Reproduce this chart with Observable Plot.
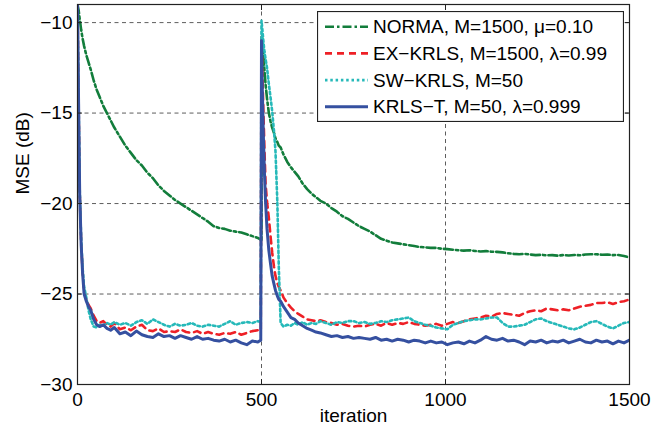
<!DOCTYPE html>
<html><head><meta charset="utf-8">
<script src="https://cdn.jsdelivr.net/npm/d3@7"></script>
<script src="https://cdn.jsdelivr.net/npm/@observablehq/plot@0.6"></script>
<style>
body{margin:0;background:#fff;}
#wrap{position:relative;width:662px;height:431px;font-family:"Liberation Sans",Arial,sans-serif;}
#legend{position:absolute;left:317px;top:11px;}
</style></head><body><div id="wrap"></div>
<script>
const iterations = [
0,3,6,10,14,18,24,30,36,44,
52,60,70,80,90,100,
115,130,145,160,175,190,205,220,235,250,
265,280,295,310,325,340,355,370,385,400,
415,430,445,460,475,490,
498,
500,502,505,508,511,515,520,525,529,534,538,543,547,552,
560,570,580,590,600,612,624,636,648,660,
675,690,705,720,735,750,765,780,795,810,
825,840,855,870,885,900,915,930,945,960,
975,990,1005,1020,1035,1050,1065,1080,1095,1110,
1125,1140,1155,1170,1185,1200,1215,1230,1245,1260,
1275,1290,1305,1320,1335,1350,1365,1380,1395,1410,
1425,1440,1455,1470,1485,1500];

const normaMSE = [
-9.0,-9.3,-9.8,-10.4,-10.9,-11.3,-11.8,-12.2,-12.6,-13.2,
-13.7,-14.1,-14.6,-15.0,-15.4,-15.8,
-16.3,-16.8,-17.2,-17.6,-17.9,-18.3,-18.6,-19.0,-19.3,-19.55,
-19.8,-20.0,-20.2,-20.4,-20.6,-20.8,-21.0,-21.25,-21.35,-21.4,
-21.5,-21.55,-21.6,-21.7,-21.8,-21.9,
-22.0,
-22.0,-10.8,-11.8,-12.6,-13.4,-14.2,-15.0,-15.5,-15.8,-16.1,-16.4,-16.6,-16.8,-16.9,
-17.3,-17.7,-18.0,-18.25,-18.5,-18.9,-19.2,-19.45,-19.65,-19.85,
-20.0,-20.25,-20.45,-20.7,-20.85,-21.05,-21.25,-21.4,-21.55,-21.75,
-21.95,-22.05,-22.15,-22.2,-22.25,-22.3,-22.35,-22.4,-22.42,-22.45,
-22.45,-22.5,-22.52,-22.55,-22.58,-22.6,-22.58,-22.62,-22.65,-22.63,
-22.66,-22.67,-22.7,-22.75,-22.78,-22.8,-22.78,-22.82,-22.85,-22.83,
-22.86,-22.85,-22.88,-22.85,-22.87,-22.84,-22.86,-22.82,-22.8,-22.8,
-22.83,-22.82,-22.85,-22.84,-22.9,-22.98];

const exkrlsMSE = [
-9.0,-14.5,-19.4,-22.2,-23.8,-24.9,-25.3,-25.6,-25.8,-26.2,
-26.5,-26.6,-26.5,-26.7,-26.8,-26.6,
-26.95,-26.85,-27.0,-26.8,-26.7,-27.0,-27.05,-26.9,-27.1,-27.05,
-27.1,-26.95,-27.1,-27.15,-27.05,-27.2,-27.1,-27.2,-27.25,-27.15,
-27.2,-27.1,-27.25,-27.15,-27.05,-27.0,
-27.05,
-10.8,-12.5,-14.8,-17.0,-18.9,-19.9,-20.8,-21.9,-22.7,-23.5,-24.0,-24.4,-24.6,-24.8,
-25.2,-25.5,-25.75,-25.95,-26.1,-26.25,-26.4,-26.45,-26.5,-26.45,
-26.55,-26.6,-26.7,-26.65,-26.75,-26.8,-26.75,-26.8,-26.7,-26.65,
-26.75,-26.6,-26.7,-26.6,-26.65,-26.55,-26.65,-26.7,-26.75,-26.7,
-26.65,-26.75,-26.65,-26.55,-26.6,-26.5,-26.4,-26.35,-26.3,-26.2,
-26.25,-26.1,-26.05,-26.1,-26.15,-26.2,-26.05,-25.95,-25.9,-25.95,
-25.8,-25.85,-25.9,-25.85,-25.9,-25.8,-25.7,-25.65,-25.6,-25.5,
-25.5,-25.45,-25.55,-25.45,-25.4,-25.3];

const swkrlsMSE = [
-9.0,-14.3,-19.2,-22.0,-23.6,-24.6,-25.2,-25.9,-26.4,-26.8,
-26.85,-26.7,-26.75,-26.6,-26.7,-26.55,
-26.7,-26.6,-26.75,-26.55,-26.45,-26.65,-26.4,-26.55,-26.7,-26.8,
-26.65,-26.75,-26.7,-26.6,-26.75,-26.8,-26.7,-26.75,-26.8,-26.65,
-26.5,-26.7,-26.6,-26.55,-26.6,-26.5,
-26.55,
-9.9,-10.3,-11.0,-11.6,-12.0,-12.5,-13.4,-14.2,-14.9,-16.0,-17.1,-19.9,-23.5,-26.6,
-26.8,-26.7,-26.75,-26.6,-26.7,-26.55,-26.7,-26.6,-26.65,-26.5,
-26.6,-26.7,-26.55,-26.6,-26.5,-26.5,-26.6,-26.55,-26.65,-26.6,
-26.5,-26.55,-26.45,-26.4,-26.35,-26.3,-26.5,-26.6,-26.7,-26.75,
-26.85,-26.9,-26.95,-26.7,-26.6,-26.5,-26.45,-26.4,-26.4,-26.35,
-26.3,-26.3,-26.6,-26.8,-26.8,-26.75,-26.7,-26.55,-26.4,-26.35,
-26.5,-26.6,-26.7,-26.8,-26.9,-26.95,-26.85,-26.7,-26.55,-26.5,
-26.65,-26.8,-26.9,-26.75,-26.6,-26.55];

const krlstMSE = [
-9.0,-14.5,-19.5,-22.3,-23.9,-25.0,-25.4,-25.7,-25.9,-26.4,
-26.7,-26.8,-26.7,-26.9,-27.0,-26.85,
-27.2,-27.1,-27.3,-27.05,-27.25,-27.35,-27.4,-27.2,-27.35,-27.3,
-27.45,-27.3,-27.4,-27.5,-27.35,-27.5,-27.45,-27.55,-27.6,-27.5,
-27.65,-27.55,-27.7,-27.8,-27.6,-27.65,
-27.55,
-11.0,-13.5,-16.2,-18.3,-19.9,-21.4,-22.6,-23.4,-24.0,-24.45,-24.8,-25.1,-25.3,-25.4,
-25.7,-26.0,-26.3,-26.4,-26.6,-26.75,-26.9,-27.0,-27.1,-27.15,
-27.25,-27.35,-27.3,-27.4,-27.35,-27.45,-27.4,-27.45,-27.5,-27.4,
-27.55,-27.5,-27.6,-27.5,-27.55,-27.65,-27.55,-27.6,-27.7,-27.6,
-27.7,-27.65,-27.8,-27.7,-27.65,-27.75,-27.6,-27.7,-27.55,-27.35,
-27.5,-27.55,-27.45,-27.6,-27.55,-27.65,-27.8,-27.6,-27.65,-27.55,
-27.7,-27.6,-27.65,-27.55,-27.7,-27.6,-27.5,-27.65,-27.7,-27.55,
-27.65,-27.6,-27.75,-27.6,-27.7,-27.55];

const seriesNames = ["NORMA, M=1500, μ=0.10", "EX−KRLS, M=1500, λ=0.99", "SW−KRLS, M=50", "KRLS−T, M=50, λ=0.999"];
const seriesValues = [normaMSE, exkrlsMSE, swkrlsMSE, krlstMSE];
const xTicks = [0, 500, 1000, 1500];
const yTicks = [-30, -25, -20, -15, -10];
const xLabel = "iteration";
const yLabel = "MSE (dB)";

const styles = [
  {stroke: "#127d3b", dash: "9,3,2.5,3", width: 2.6},
  {stroke: "#ee2026", dash: "7,5", width: 2.6},
  {stroke: "#26b9b9", dash: "2.5,2.8", width: 2.6},
  {stroke: "#3550a0", dash: null, width: 3}
];

const FONT = "Liberation Sans, Arial, Helvetica, sans-serif";
const fmt = d => d < 0 ? "\u2212" + Math.abs(d) : String(d);

const lineMarks = seriesValues.map((vals, s) => {
  const rows = iterations.map((it, i) => ({it, v: vals[i]}));
  const st = styles[s];
  const o = {x: "it", y: "v", stroke: st.stroke, strokeWidth: st.width, clip: true, strokeLinejoin: "round"};
  if (st.dash) o.strokeDasharray = st.dash;
  return Plot.line(rows, o);
});

const grid = {stroke: "#333", strokeWidth: 0.8, strokeDasharray: "4,3.5"};

const chart = Plot.plot({
  width: 662, height: 431,
  marginLeft: 77, marginRight: 33, marginTop: 4, marginBottom: 47,
  x: {domain: [0, 1500]},
  y: {domain: [-30, -9]},
  style: {fontFamily: FONT, fontSize: "19px", background: "white", color: "black", overflow: "visible"},
  marks: [
    Plot.ruleY(yTicks.filter(d => d > -30), {y: d => d, ...grid}),
    Plot.ruleX(xTicks.filter(d => d > 0 && d < 1500), {x: d => d, ...grid}),
    ...lineMarks,
    Plot.frame({stroke: "#222", strokeWidth: 1.2}),
    Plot.axisX(xTicks, {anchor: "bottom", tickSize: 0, tickPadding: 8, tickFormat: fmt, label: null, fontSize: 19}),
    Plot.axisX(xTicks, {anchor: "bottom", tickSize: 5, dy: -5, text: null, label: null, stroke: "#222"}),
    Plot.axisX(xTicks, {anchor: "top", tickSize: 5, dy: 5, text: null, label: null, stroke: "#222"}),
    Plot.axisY(yTicks, {anchor: "left", tickSize: 0, tickPadding: 5, tickFormat: fmt, label: null, fontSize: 19}),
    Plot.axisY(yTicks, {anchor: "left", tickSize: 5, dx: 5, text: null, label: null, stroke: "#222"}),
    Plot.axisY(yTicks, {anchor: "right", tickSize: 5, dx: -5, text: null, label: null, stroke: "#222"}),
    Plot.text([xLabel], {text: d => d, frameAnchor: "bottom", dy: 37, fontSize: 19}),
    Plot.text([yLabel], {text: d => d, frameAnchor: "left", rotate: -90, dx: -55, fontSize: 19})
  ]
});

const wrap = document.getElementById("wrap");
wrap.appendChild(chart);

// legend
const lw = 307, lh = 111;
const leg = d3.create("svg").attr("id", "legend").attr("width", lw).attr("height", lh)
  .style("position", "absolute").style("left", "317px").style("top", "11px");
leg.append("rect").attr("x", 0.5).attr("y", 0.5).attr("width", lw - 1).attr("height", lh - 1)
  .attr("fill", "white").attr("stroke", "#222").attr("stroke-width", 1.2);
seriesNames.forEach((name, i) => {
  const yy = 15.7 + i * 26.7;
  const st = styles[i];
  const ln = leg.append("line").attr("x1", 8).attr("x2", 51).attr("y1", yy).attr("y2", yy)
    .attr("stroke", st.stroke).attr("stroke-width", st.width);
  if (st.dash) ln.attr("stroke-dasharray", st.dash);
  leg.append("text").attr("x", 56).attr("y", yy).attr("dy", "0.35em")
    .attr("font-family", FONT).attr("font-size", 19).attr("fill", "black").text(name);
});
wrap.appendChild(leg.node());
</script>
</body></html>
